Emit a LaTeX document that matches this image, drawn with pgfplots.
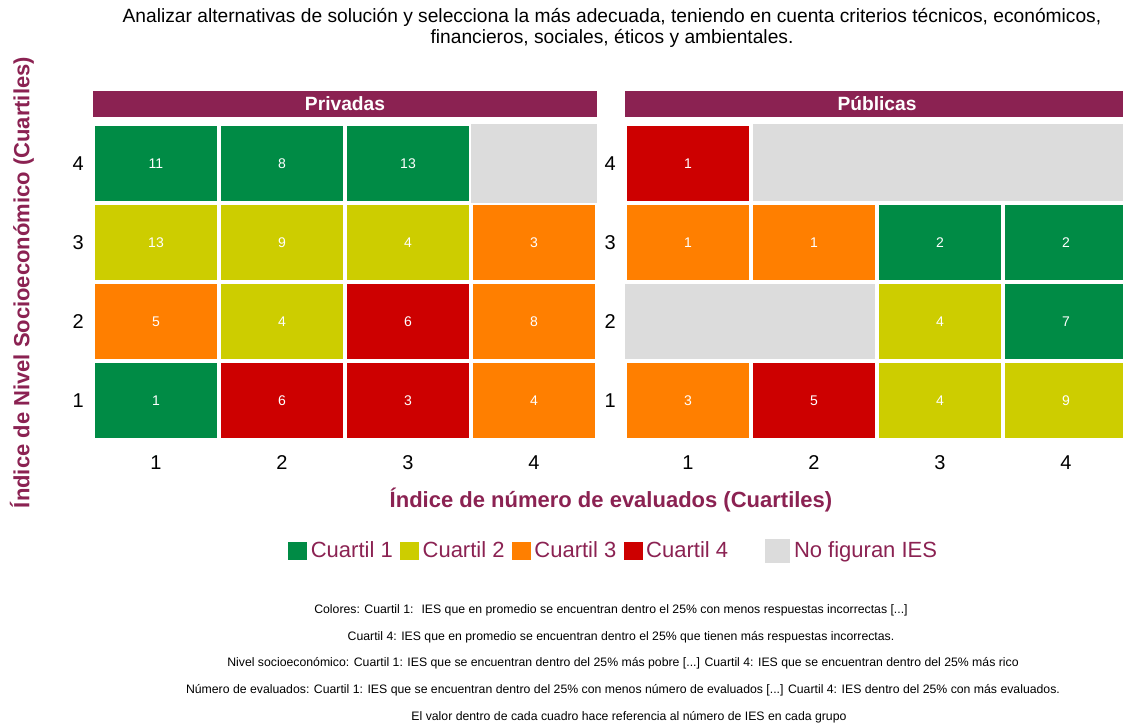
\documentclass[border=0pt]{standalone}
\usepackage{pgfplots}
\pgfplotsset{compat=1.18}
\usepackage{fontspec}
\setmainfont{Liberation Sans}
\definecolor{cgreen}{RGB}{0,139,69}
\definecolor{cyellow}{RGB}{205,205,0}
\definecolor{corange}{RGB}{255,127,0}
\definecolor{cred}{RGB}{205,0,0}
\definecolor{cgray}{RGB}{220,220,220}
\definecolor{cmaroon}{RGB}{139,34,82}
\pgfdeclareplotmark{tile}{\pgfpathrectanglecorners{\pgfpoint{-47.25pt}{-29.625pt}}{\pgfpoint{47.25pt}{29.625pt}}\pgfusepathqfillstroke}
\pgfdeclareplotmark{ntile}{\pgfpathrectanglecorners{\pgfpoint{-47.25pt}{-29.625pt}}{\pgfpoint{47.25pt}{29.625pt}}\pgfusepathqfill}
\pgfplotsset{
  panel/.style={
    x=94.5pt, y=59.25pt,
    xmin=0.5, xmax=4.5, ymin=0.5, ymax=4.5,
    /pgf/number format/assume math mode=true,
    axis line style={draw=none},
    major tick length=0pt,
    xtick={1,2,3,4}, ytick={1,2,3,4},
    tick label style={font=\fontsize{15}{15}\selectfont, inner sep=0pt},
    xticklabel style={anchor=north, yshift=-11.25pt},
    yticklabel style={anchor=east, xshift=-6.75pt},
    clip=false,
    title style={at={(0.5,1)}, anchor=south, yshift=-0.75pt, fill=cmaroon, text=white,
      font=\bfseries\fontsize{14.4}{14.4}\selectfont, minimum width=378pt,
      minimum height=19.5pt, inner sep=0pt},
  },
  qbase/.style={only marks, mark=tile, nodes near coords, point meta=explicit,
    nodes near coords align=center,
    every node near coord/.append style={text=white, font=\fontsize{10.5}{10.5}\selectfont, anchor=center}},
  q1/.style={qbase, mark options={fill=cgreen, draw=white, line width=2.6pt},
    legend image code/.code={\fill[cgreen] (0pt,-6.2pt) rectangle (13.5pt,6.2pt);}},
  q2/.style={qbase, mark options={fill=cyellow, draw=white, line width=2.6pt},
    legend image code/.code={\fill[cyellow] (0pt,-6.2pt) rectangle (13.5pt,6.2pt);}},
  q3/.style={qbase, mark options={fill=corange, draw=white, line width=2.6pt},
    legend image code/.code={\fill[corange] (0pt,-6.2pt) rectangle (13.5pt,6.2pt);}},
  q4/.style={qbase, mark options={fill=cred, draw=white, line width=2.6pt},
    legend image code/.code={\fill[cred] (0pt,-6.2pt) rectangle (13.5pt,6.2pt);}},
  qn/.style={only marks, mark=ntile, mark options={fill=cgray, draw=none},
    legend image code/.code={\fill[cgray] (0pt,-8.6pt) rectangle (18pt,8.6pt);}},
}
\begin{document}
\begin{tikzpicture}
\useasboundingbox (-69.75pt,-213.75pt) rectangle (772.5pt,330pt);
% Privadas
\begin{axis}[panel, at={(0pt,0pt)}, anchor=south west, title={Privadas},
  legend style={at={(1.0338,-0.3513)}, anchor=center, draw=none, fill=none,
    legend columns=5, font=\fontsize{16.5}{16.5}\selectfont, text=cmaroon,
    /tikz/every odd column/.append style={column sep=1pt},
    /tikz/every even column/.append style={column sep=3.5pt}},
]
\addplot[q1] coordinates {(1,4) [11] (2,4) [8] (3,4) [13] (1,1) [1]};
\addlegendentry{Cuartil 1}
\addplot[q2] coordinates {(1,3) [13] (2,3) [9] (3,3) [4] (2,2) [4]};
\addlegendentry{Cuartil 2}
\addplot[q3] coordinates {(4,3) [3] (1,2) [5] (4,2) [8] (4,1) [4]};
\addlegendentry{Cuartil 3}
\addplot[q4] coordinates {(3,2) [6] (2,1) [6] (3,1) [3]};
\addlegendentry{Cuartil 4\hspace*{22.5pt}}
\addplot[qn] coordinates {(4,4)};
\addlegendentry{No figuran IES}
\end{axis}
% Publicas
\begin{axis}[panel, at={(399pt,0pt)}, anchor=south west, title={Públicas}]
\addplot[qn] coordinates {(2,4) (3,4) (4,4) (1,2) (2,2)};
\addplot[q1] coordinates {(3,3) [2] (4,3) [2] (4,2) [7]};
\addplot[q2] coordinates {(3,2) [4] (3,1) [4] (4,1) [9]};
\addplot[q3] coordinates {(1,3) [1] (2,3) [1] (1,1) [3]};
\addplot[q4] coordinates {(1,4) [1] (2,1) [5]};
\end{axis}
% texts
\node[align=center, font=\fontsize{14.4}{15.75}\selectfont] at (389.25pt,309pt)
  {Analizar alternativas de solución y selecciona la más adecuada, teniendo en cuenta criterios técnicos, económicos,\\financieros, sociales, éticos y ambientales.};
\node[rotate=90, font=\bfseries\fontsize{16.5}{16.5}\selectfont, text=cmaroon] at (-53.25pt,118.1pt)
  {Índice de Nivel Socioeconómico (Cuartiles)};
\node[font=\bfseries\fontsize{16.5}{16.5}\selectfont, text=cmaroon] at (388.5pt,-45pt)
  {Índice de número de evaluados (Cuartiles)};
\begin{scope}[every node/.style={font=\fontsize{9.2}{9.2}\selectfont}]
\node at (388.5pt,-127.75pt) {Colores: Cuartil 1: \ IES que en promedio se encuentran dentro el 25\% con menos respuestas incorrectas [...]};
\node at (396pt,-148pt) {Cuartil 4: IES que en promedio se encuentran dentro el 25\% que tienen más respuestas incorrectas.};
\node at (397.5pt,-167.5pt) {Nivel socioeconómico: Cuartil 1: IES que se encuentran dentro del 25\% más pobre [...] Cuartil 4: IES que se encuentran dentro del 25\% más rico};
\node at (397.5pt,-187.75pt) {Número de evaluados: Cuartil 1: IES que se encuentran dentro del 25\% con menos número de evaluados [...] Cuartil 4: IES dentro del 25\% con más evaluados.};
\node at (402pt,-208pt) {El valor dentro de cada cuadro hace referencia al número de IES en cada grupo};
\end{scope}
\end{tikzpicture}
\end{document}
